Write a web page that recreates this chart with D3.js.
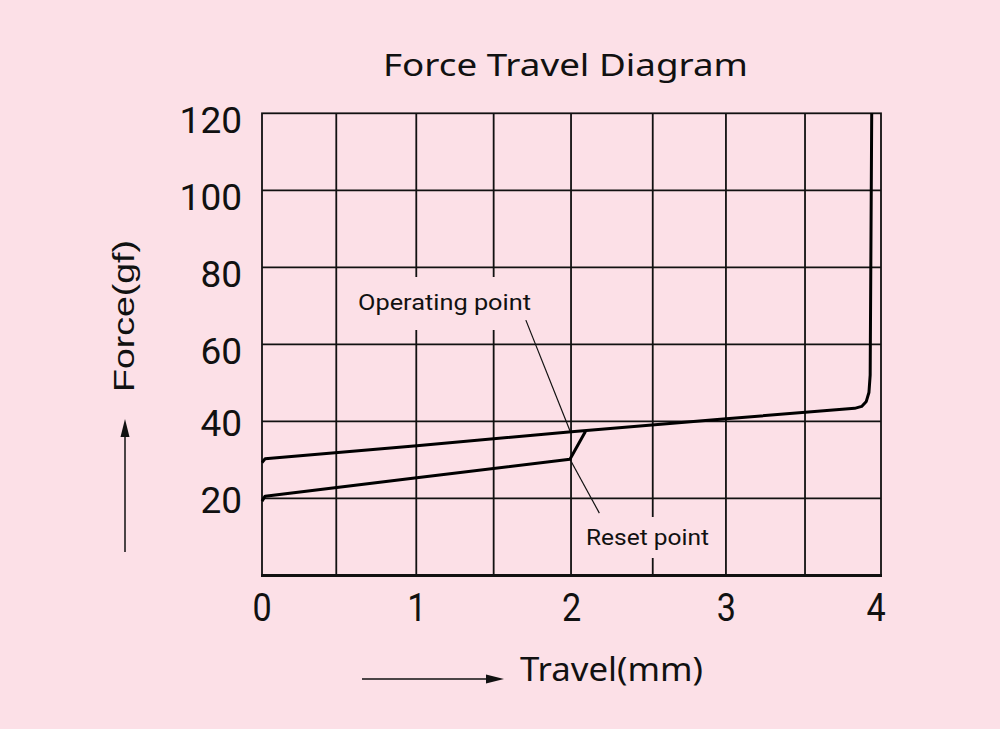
<!DOCTYPE html>
<html><head><meta charset="utf-8">
<script src="https://cdn.jsdelivr.net/npm/d3@7"></script>
<style>html,body{margin:0;padding:0;background:#fce0e7;}svg{display:block;}</style>
</head><body>
<script>
// ---- data ----
const title = "Force Travel Diagram";
const xLabel = "Travel(mm)";
const yLabel = "Force(gf)";
const xTicks = [0, 1, 2, 3, 4];
const yTicks = [20, 40, 60, 80, 100, 120];
const xGrid = [0.48, 0.997, 1.497, 1.997, 2.525, 2.998, 3.509];
const yGrid = [20, 40, 60, 80, 100];
// press (operating) curve: [travel, force]
const pressCurve = [[0, 29.3], [0.02, 30.3], [1.0, 33.7], [2.0, 37.3], [3.0, 40.7], [3.83, 43.4], [3.875, 43.9], [3.905, 45.2], [3.922, 47.5], [3.93, 52], [3.94, 120]];
// release (reset) curve
const releaseCurve = [[0, 19.3], [0.02, 20.6], [1.0, 25.4], [1.99, 30.2], [2.09, 37.4]];
const annotations = [
  {text: "Operating point", from: [1.705, 66.3], to: [1.99, 37.6]},
  {text: "Reset point", from: [2.18, 16.2], to: [1.99, 30.2]}
];

const W = 1000, H = 729;
const svg = d3.select("body").append("svg").attr("width", W).attr("height", H);
svg.append("rect").attr("width", W).attr("height", H).attr("fill", "#fce0e7");

const x = d3.scaleLinear().domain([0, 4]).range([262, 881]);
const y = d3.scaleLinear().domain([0, 120]).range([575.5, 113.3]);
const ink = "#111";

// grid
const g = svg.append("g");
g.selectAll(".vg").data(xGrid).join("line")
  .attr("x1", d => x(d)).attr("x2", d => x(d)).attr("y1", y(0)).attr("y2", y(120))
  .attr("stroke", ink).attr("stroke-width", 1.8);
g.selectAll(".hg").data(yGrid).join("line")
  .attr("x1", x(0)).attr("x2", x(4)).attr("y1", d => y(d)).attr("y2", d => y(d))
  .attr("stroke", ink).attr("stroke-width", 1.8);
// frame
g.append("rect").attr("x", x(0)).attr("y", y(120)).attr("width", x(4) - x(0)).attr("height", y(0) - y(120))
  .attr("fill", "none").attr("stroke", ink).attr("stroke-width", 1.8);
g.append("line").attr("x1", x(0) - 1).attr("x2", x(4) + 1).attr("y1", y(0)).attr("y2", y(0))
  .attr("stroke", ink).attr("stroke-width", 3);

// label background patches (breaking gridlines behind labels)
svg.append("rect").attr("x", 352).attr("y", 277).attr("width", 185).attr("height", 53).attr("fill", "#fce0e7");
svg.append("rect").attr("x", 580).attr("y", 517).attr("width", 135).attr("height", 41).attr("fill", "#fce0e7");

// leader lines
svg.selectAll(".lead").data(annotations).join("line")
  .attr("x1", d => x(d.from[0])).attr("y1", d => y(d.from[1]))
  .attr("x2", d => x(d.to[0])).attr("y2", d => y(d.to[1]))
  .attr("stroke", ink).attr("stroke-width", 1.2);

// curves
const lineL = d3.line().x(d => x(d[0])).y(d => y(d[1]));
svg.append("path").attr("d", lineL(pressCurve)).attr("fill", "none").attr("stroke", "#000")
  .attr("stroke-width", 3).attr("stroke-linejoin", "round");
svg.append("path").attr("d", lineL(releaseCurve)).attr("fill", "none").attr("stroke", "#000")
  .attr("stroke-width", 3).attr("stroke-linejoin", "round");

// annotation texts
svg.append("text").attr("x", 358).attr("y", 310).attr("font-family", "Roboto, 'Liberation Sans', sans-serif")
  .attr("font-size", 22).attr("fill", ink).attr("textLength", 173).attr("lengthAdjust", "spacingAndGlyphs")
  .text(annotations[0].text);
svg.append("text").attr("x", 586).attr("y", 545).attr("font-family", "Roboto, 'Liberation Sans', sans-serif")
  .attr("font-size", 22).attr("fill", ink).attr("textLength", 123).attr("lengthAdjust", "spacingAndGlyphs")
  .text(annotations[1].text);

// tick labels
svg.selectAll(".yt").data(yTicks).join("text")
  .attr("x", 242).attr("y", d => y(d) + (d >= 60 ? 6 : 1)).attr("dy", "0.36em").attr("text-anchor", "end")
  .attr("font-family", "Roboto, sans-serif").attr("font-size", 37).attr("fill", ink)
  .text(d => d);
svg.selectAll(".xt").data(xTicks).join("text")
  .attr("transform", d => `translate(${x(d) - (d === 4 ? 5 : 0)},621) scale(0.9,1)`)
  .attr("text-anchor", "middle")
  .attr("font-family", "Roboto, sans-serif").attr("font-size", 38).attr("fill", ink)
  .text(d => d);

// title
svg.append("text").attr("x", 383).attr("y", 76).attr("font-family", "'Noto Sans', sans-serif")
  .attr("font-size", 30).attr("fill", ink).attr("textLength", 365).attr("lengthAdjust", "spacingAndGlyphs")
  .text(title);

// x axis label + arrow
svg.append("text").attr("x", 520).attr("y", 681).attr("font-family", "'Noto Sans', sans-serif")
  .attr("font-size", 32).attr("fill", ink).attr("textLength", 183).attr("lengthAdjust", "spacingAndGlyphs")
  .text(xLabel);
svg.append("line").attr("x1", 362).attr("x2", 490).attr("y1", 679).attr("y2", 679).attr("stroke", ink).attr("stroke-width", 1.5);
svg.append("path").attr("d", "M486,674.5 L504,679 L486,683.5 Z").attr("fill", ink);

// y axis label + arrow
svg.append("text").attr("transform", "translate(134,392) rotate(-90)")
  .attr("font-family", "'Liberation Sans', Arial, sans-serif")
  .attr("font-size", 30).attr("fill", ink).attr("textLength", 152).attr("lengthAdjust", "spacingAndGlyphs")
  .text(yLabel);
svg.append("line").attr("x1", 125).attr("x2", 125).attr("y1", 552).attr("y2", 432).attr("stroke", ink).attr("stroke-width", 1.5);
svg.append("path").attr("d", "M120.5,437 L125,419 L129.5,437 Z").attr("fill", ink);
</script>
</body></html>
